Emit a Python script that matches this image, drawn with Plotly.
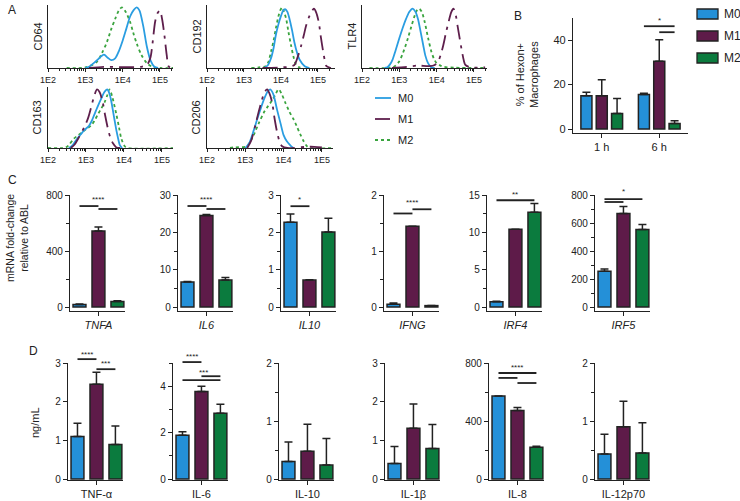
import math
import plotly.graph_objects as go

W, H = 740, 501
FONT = "Liberation Sans, Arial, sans-serif"
INK = "#222222"

GROUPS = ["M0", "M1", "M2"]
BAR_COLORS = ["#2490d8", "#5e1b49", "#0b7b3e"]
LINE_COLORS = ["#2a9de1", "#5e1f4c", "#3aa43f"]
LINE_DASH = ["solid", "longdashdot", "dot"]

# ---------------- Panel A: histogram curves (log10 intensity, normalised count)
CD64_M0 = [(3.0, 0), (3.1, 0.02), (3.3, 0.12), (3.5, 0.22), (3.6, 0.17), (3.7, 0.13), (3.8, 0.16),
           (3.9, 0.28), (4.0, 0.45), (4.1, 0.65), (4.2, 0.85), (4.3, 0.96), (4.38, 1.0), (4.45, 0.95),
           (4.55, 0.7), (4.65, 0.35), (4.75, 0.12), (4.85, 0.02), (4.95, 0)]
CD64_M1 = [(3.1, 0), (3.5, 0.02), (4.0, 0.015), (4.5, 0.02), (4.65, 0.05), (4.74, 0.16), (4.8, 0.4),
           (4.87, 0.76), (4.93, 0.9), (5.0, 0.95), (5.06, 0.8), (5.12, 0.54), (5.18, 0.22), (5.23, 0.03),
           (5.3, 0)]
CD64_M2 = [(2.5, 0), (3.0, 0.01), (3.31, 0.1), (3.45, 0.25), (3.58, 0.43), (3.7, 0.65), (3.8, 0.81),
           (3.9, 0.95), (3.98, 1.0), (4.08, 0.93), (4.2, 0.76), (4.3, 0.55), (4.38, 0.4), (4.5, 0.22),
           (4.65, 0.08), (4.83, 0.01), (5.0, 0), (5.37, 0)]

CD192_M0 = [(3.55, 0), (3.65, 0.05), (3.73, 0.16), (3.8, 0.33), (3.86, 0.54), (3.93, 0.72), (4.0, 0.86),
            (4.06, 0.95), (4.11, 0.97), (4.17, 0.93), (4.23, 0.81), (4.3, 0.62), (4.36, 0.43),
            (4.43, 0.26), (4.5, 0.14), (4.64, 0.03), (4.77, 0)]
CD192_M1 = [(3.5, 0), (4.0, 0.01), (4.2, 0.02), (4.36, 0.05), (4.45, 0.18), (4.55, 0.38), (4.62, 0.55),
            (4.68, 0.7), (4.75, 0.83), (4.82, 0.92), (4.89, 0.98), (4.95, 0.92), (5.02, 0.76),
            (5.08, 0.5), (5.14, 0.27), (5.2, 0.08), (5.23, 0.03), (5.35, 0)]
CD192_M2 = [(3.2, 0), (3.4, 0.01), (3.59, 0.03), (3.66, 0.1), (3.73, 0.27), (3.8, 0.45), (3.86, 0.65),
            (3.93, 0.85), (3.98, 0.95), (4.03, 1.0), (4.08, 0.93), (4.14, 0.81), (4.2, 0.6),
            (4.27, 0.38), (4.34, 0.18), (4.41, 0.05), (4.5, 0.01), (4.6, 0)]

TLR4_M0 = [(2.6, 0), (2.68, 0.01), (2.75, 0.06), (2.82, 0.14), (2.9, 0.29), (3.0, 0.49), (3.09, 0.66),
           (3.18, 0.81), (3.27, 0.93), (3.36, 0.98), (3.43, 0.93), (3.5, 0.81), (3.57, 0.6),
           (3.64, 0.38), (3.7, 0.2), (3.77, 0.08), (3.86, 0.01), (3.95, 0)]
TLR4_M1 = [(2.8, 0), (3.2, 0.02), (3.5, 0.04), (3.8, 0.03), (3.95, 0.05), (4.05, 0.12), (4.12, 0.24),
           (4.18, 0.38), (4.25, 0.58), (4.32, 0.76), (4.39, 0.92), (4.45, 0.98), (4.51, 0.88),
           (4.56, 0.7), (4.62, 0.48), (4.68, 0.27), (4.73, 0.12), (4.77, 0.05), (4.9, 0.01), (5.3, 0.01)]
TLR4_M2 = [(2.2, 0), (2.82, 0.01), (2.9, 0.04), (3.0, 0.11), (3.1, 0.25), (3.23, 0.49), (3.32, 0.68),
           (3.41, 0.86), (3.47, 0.95), (3.53, 0.98), (3.6, 0.93), (3.68, 0.76), (3.77, 0.5),
           (3.86, 0.27), (3.93, 0.15), (4.0, 0.08), (4.1, 0.04), (4.18, 0.02), (4.5, 0.005), (5.3, 0)]

CD163_M0 = [(2.55, 0), (2.65, 0.05), (2.77, 0.16), (2.86, 0.23), (2.95, 0.3), (3.08, 0.38), (3.15, 0.46),
            (3.22, 0.57), (3.31, 0.71), (3.4, 0.84), (3.48, 0.95), (3.56, 1.0), (3.62, 0.92),
            (3.67, 0.78), (3.74, 0.52), (3.8, 0.3), (3.85, 0.15), (3.89, 0.05), (3.95, 0)]
CD163_M1 = [(2.6, 0), (2.7, 0.06), (2.82, 0.19), (2.95, 0.35), (3.05, 0.5), (3.13, 0.68), (3.2, 0.85),
            (3.29, 1.0), (3.36, 0.95), (3.44, 0.78), (3.5, 0.57), (3.57, 0.35), (3.64, 0.18),
            (3.71, 0.08), (3.8, 0.01), (3.9, 0)]
CD163_M2 = [(2.0, 0), (2.45, 0.005), (2.55, 0.05), (2.68, 0.16), (2.8, 0.22), (2.9, 0.27), (3.0, 0.32),
            (3.13, 0.38), (3.22, 0.46), (3.31, 0.57), (3.4, 0.67), (3.49, 0.78), (3.56, 0.9),
            (3.62, 1.0), (3.7, 0.85), (3.8, 0.57), (3.87, 0.35), (3.93, 0.16), (4.02, 0.03),
            (4.1, 0), (5.35, 0)]

CD206_M0 = [(3.0, 0), (3.1, 0.08), (3.22, 0.3), (3.3, 0.47), (3.39, 0.65), (3.5, 0.85), (3.58, 0.96),
            (3.65, 1.0), (3.73, 0.92), (3.83, 0.65), (3.92, 0.42), (4.0, 0.22), (4.08, 0.12),
            (4.17, 0.05), (4.25, 0)]
CD206_M1 = [(3.05, 0), (3.15, 0.12), (3.26, 0.38), (3.35, 0.62), (3.43, 0.81), (3.5, 0.95), (3.57, 1.0),
            (3.63, 0.93), (3.7, 0.78), (3.76, 0.52), (3.83, 0.27), (3.9, 0.1), (3.96, 0.03),
            (4.1, 0), (4.6, 0.02), (4.8, 0.02), (5.0, 0.01)]
CD206_M2 = [(2.6, 0), (2.7, 0.01), (3.04, 0.03), (3.12, 0.1), (3.22, 0.22), (3.35, 0.42), (3.48, 0.6),
            (3.6, 0.72), (3.7, 0.81), (3.8, 0.93), (3.87, 1.0), (3.95, 0.92), (4.04, 0.78),
            (4.15, 0.62), (4.26, 0.49), (4.35, 0.36), (4.43, 0.24), (4.52, 0.12), (4.61, 0.03),
            (4.7, 0), (5.3, 0)]

A_TICKVALS = [2, 3, 4, 5]
A_TICKTEXT = ["1E2", "1E3", "1E4", "1E5"]

# ---------------- Panel B
B_TIMES = ["1 h", "6 h"]
B_M0 = [15.0, 15.5]
B_M0_ERR = [1.5, 0.6]
B_M1 = [15.0, 30.5]
B_M1_ERR = [7.2, 9.7]
B_M2 = [7.0, 2.5]
B_M2_ERR = [6.7, 1.2]

# ---------------- Panel C (mRNA fold-change)
C_GENES = ["TNFA", "IL6", "IL10", "IFNG", "IRF4", "IRF5"]
TNFA_MEAN = [18, 543, 40];      TNFA_ERR = [4, 28, 5]
IL6_MEAN = [6.7, 24.5, 7.2];    IL6_ERR = [0.1, 0.25, 0.7]
IL10_MEAN = [2.27, 0.72, 2.01]; IL10_ERR = [0.22, 0.01, 0.37]
IFNG_MEAN = [0.05, 1.44, 0.025]; IFNG_ERR = [0.02, 0.0, 0.0]
IRF4_MEAN = [0.7, 10.4, 12.7];  IRF4_ERR = [0.08, 0.0, 1.15]
IRF5_MEAN = [256, 668, 554];    IRF5_ERR = [16, 50, 36]

# ---------------- Panel D (ng/mL)
D_CYTOKINES = ["TNF-α", "IL-6", "IL-10", "IL-1β", "IL-8", "IL-12p70"]
TNF_MEAN = [1.10, 2.45, 0.89];   TNF_ERR = [0.34, 0.31, 0.48]
IL6P_MEAN = [1.89, 3.77, 2.83];  IL6P_ERR = [0.15, 0.23, 0.39]
IL10P_MEAN = [0.30, 0.48, 0.24]; IL10P_ERR = [0.34, 0.465, 0.46]
IL1B_MEAN = [0.40, 1.31, 0.79];  IL1B_ERR = [0.44, 0.63, 0.62]
IL8_MEAN = [572, 473, 219];      IL8_ERR = [0, 20, 7]
IL12_MEAN = [0.43, 0.90, 0.45];  IL12_ERR = [0.34, 0.44, 0.52]

# significance brackets: (from group, to group, y) and stars: (x position, y, text)
B_BRACKETS = [(0, 2, 46.3), (1, 2, 43.6)]
B_STARS = [(1, 49.0, "*")]
C_BRACKETS = [[(0, 1, 721), (1, 2, 700)], [(0, 1, 27.05), (1, 2, 26.25)], [(0, 1, 2.7)],
              [(0, 1, 1.67), (1, 2, 1.745)], [(0, 2, 14.3)], [(0, 2, 771), (0, 1, 750)]]
C_STARS = [[(1, 771, "****")], [(1, 28.9, "****")], [(0.5, 2.87, "*")], [(1, 1.86, "****")],
           [(1, 15.1, "**")], [(1, 822, "*")]]
D_BRACKETS = [[(0, 1, 3.10), (1, 2, 2.84)], [(0, 1, 5.04), (0, 2, 4.26), (1, 2, 4.43)], [], [],
              [(0, 2, 731), (0, 1, 697), (1, 2, 662)], []]
D_STARS = [[(0.5, 3.23, "****"), (1.5, 3.0, "***")], [(0.5, 5.3, "****"), (1.1, 4.6, "***")], [], [],
           [(1, 766, "****")], []]

# ---------------------------------------------------------------------------
fig = go.Figure()
layout = {}
annotations = []
shapes = []
GEOM = {}


def axname(kind, i):
    return kind + ("" if i == 1 else str(i))


def ref(kind, i):
    return kind[0] + ("" if i == 1 else str(i))


def add_axes(i, left, right, top, bottom, xrange, yrange, xcfg, ycfg):
    base = dict(showline=True, linecolor=INK, linewidth=1.3, showgrid=False, zeroline=False,
                ticks="outside", tickcolor=INK, tickwidth=1.2, ticklen=4,
                tickfont=dict(family=FONT, size=10, color=INK))
    xc = dict(base); xc.update(domain=[left / W, right / W], anchor=ref("y", i), range=xrange); xc.update(xcfg)
    yc = dict(base); yc.update(domain=[1 - bottom / H, 1 - top / H], anchor=ref("x", i), range=yrange); yc.update(ycfg)
    layout[axname("xaxis", i)] = xc
    layout[axname("yaxis", i)] = yc
    GEOM[i] = (left, right, top, bottom, xrange, yrange)


def to_paper(i, x, y):
    left, right, top, bottom, xr, yr = GEOM[i]
    px = left + (x - xr[0]) / (xr[1] - xr[0]) * (right - left)
    py = bottom - (y - yr[0]) / (yr[1] - yr[0]) * (bottom - top)
    return px / W, 1 - py / H


def text(x, y, s, size=10, angle=0, xanchor="center", yanchor="middle"):
    annotations.append(dict(x=x / W, y=1 - y / H, xref="paper", yref="paper", text=s, showarrow=False,
                            textangle=angle, xanchor=xanchor, yanchor=yanchor,
                            font=dict(family=FONT, size=size, color=INK)))


def bracket(i, a, b, yv):
    x0, y0 = to_paper(i, a, yv)
    x1, _ = to_paper(i, b, yv)
    shapes.append(dict(type="line", xref="paper", yref="paper", x0=x0, x1=x1, y0=y0, y1=y0,
                       line=dict(color=INK, width=1.8)))


def star(i, xs, yv, s):
    px, py = to_paper(i, xs, yv)
    annotations.append(dict(x=px, y=py, xref="paper", yref="paper", text=s, showarrow=False,
                            xanchor="center", yanchor="middle",
                            font=dict(family=FONT, size=8, color=INK)))


def minor_log(lo, hi):
    vals = []
    for d in range(2, 6):
        for k in range(2, 10):
            v = d + math.log10(k)
            if lo < v < hi:
                vals.append(v)
    return vals


# ----- Panel A
A_PANELS = [
    ("CD64", [CD64_M0, CD64_M1, CD64_M2], 48, 173, 5, 68, 5.35),
    ("CD192", [CD192_M0, CD192_M1, CD192_M2], 207, 335, 5, 68, 5.46),
    ("TLR4", [TLR4_M0, TLR4_M1, TLR4_M2], 362, 487, 5, 68, 5.35),
    ("CD163", [CD163_M0, CD163_M1, CD163_M2], 48, 173, 87, 148, 5.29),
    ("CD206", [CD206_M0, CD206_M1, CD206_M2], 207, 333, 87, 148, 5.29),
]
idx = 0
for name, curves, left, right, top, bottom, xmax in A_PANELS:
    idx += 1
    add_axes(idx, left, right, top, bottom, [2, xmax], [0, 1.04],
             dict(tickmode="array", tickvals=A_TICKVALS, ticktext=A_TICKTEXT,
                  ticklen=3, tickfont=dict(family=FONT, size=9, color=INK),
                  minor=dict(tickmode="array", tickvals=minor_log(2, xmax), ticks="outside",
                             ticklen=2, tickcolor=INK, tickwidth=0.8)),
             dict(ticks="", showticklabels=False))
    for g in (2, 0, 1):
        pts = curves[g]
        fig.add_trace(go.Scatter(x=[p[0] for p in pts], y=[p[1] for p in pts], mode="lines",
                                 line=dict(color=LINE_COLORS[g], width=1.8, dash=LINE_DASH[g],
                                           shape="spline", smoothing=0.8),
                                 xaxis=ref("x", idx), yaxis=ref("y", idx), showlegend=False,
                                 hoverinfo="skip"))
    text(left - 11, (top + bottom) / 2, name, size=11, angle=-90)

# legend A
for g, yy in zip(range(3), [98, 119, 140]):
    shapes.append(dict(type="line", xref="paper", yref="paper", x0=375 / W, x1=391 / W,
                       y0=1 - yy / H, y1=1 - yy / H,
                       line=dict(color=LINE_COLORS[g], width=1.8, dash=LINE_DASH[g])))
    text(396, yy, GROUPS[g], size=11, xanchor="left")

text(12, 10, "A", size=12)

# ----- Panel B
idx += 1
BARGAP = 0.2
add_axes(idx, 573, 688, 18, 133, [-0.5, 1.5], [-1.8, 50],
         dict(type="category", tickfont=dict(family=FONT, size=11, color=INK)),
         dict(tickmode="array", tickvals=[0, 20, 40], tickfont=dict(family=FONT, size=11, color=INK)))
for g, (vals, errs) in enumerate([(B_M0, B_M0_ERR), (B_M1, B_M1_ERR), (B_M2, B_M2_ERR)]):
    fig.add_trace(go.Bar(x=B_TIMES, y=vals, offsetgroup=str(g), name=GROUPS[g],
                         marker=dict(color=BAR_COLORS[g], line=dict(color=INK, width=1.5)),
                         error_y=dict(type="data", symmetric=False, array=errs,
                                      arrayminus=[0] * len(errs), color=INK, thickness=1.5, width=4),
                         xaxis=ref("x", idx), yaxis=ref("y", idx), showlegend=False))
slot = (1 - BARGAP) / 3
for a, b, yv in B_BRACKETS:
    bracket(idx, 1 + (a - 1) * slot, 1 + (b - 1) * slot, yv)
for xs, yv, s in B_STARS:
    star(idx, xs, yv, s)
text(527, 75, "% of Hexon+<br>Macrophages", size=11, angle=-90)
text(518, 16, "B", size=12)
for g, yy in zip(range(3), [14, 36, 58]):
    shapes.append(dict(type="rect", xref="paper", yref="paper", x0=697 / W, x1=718 / W,
                       y0=1 - (yy + 5) / H, y1=1 - (yy - 5) / H,
                       fillcolor=BAR_COLORS[g], line=dict(color=INK, width=1.3)))
    text(722, yy, GROUPS[g], size=12, xanchor="left")


# ----- Bar panels C and D
def bar_panel(i, left, top, bottom, label, italic, means, errs, ymax, dmajor, dminor, pad_px,
              brackets, stars):
    height = bottom - top
    ylo = -ymax * pad_px / (height - pad_px)
    ycfg = dict(tickmode="linear", tick0=0, dtick=dmajor)
    if dminor:
        ycfg["minor"] = dict(tickmode="linear", tick0=0, dtick=dminor, ticks="outside", ticklen=3,
                             tickcolor=INK, tickwidth=1.1)
    add_axes(i, left, left + 55, top, bottom, [-0.5, 2.4], [ylo, ymax],
             dict(type="category", tickmode="array", tickvals=["M1"],
                  ticktext=["<i>%s</i>" % label if italic else label],
                  tickfont=dict(family=FONT, size=11, color=INK)),
             ycfg)
    fig.add_trace(go.Bar(x=GROUPS, y=means, width=0.68,
                         marker=dict(color=BAR_COLORS, line=dict(color=INK, width=1.5)),
                         error_y=dict(type="data", symmetric=False, array=errs,
                                      arrayminus=[0] * len(errs), color=INK, thickness=1.5, width=4),
                         xaxis=ref("x", i), yaxis=ref("y", i), showlegend=False))
    for a, b, yv in brackets:
        bracket(i, a, b, yv)
    for xs, yv, s in stars:
        star(i, xs, yv, s)


C_SPECS = [(70, TNFA_MEAN, TNFA_ERR, 800, 400, 200),
           (178, IL6_MEAN, IL6_ERR, 30, 10, 5),
           (281, IL10_MEAN, IL10_ERR, 3, 1, 0.5),
           (384, IFNG_MEAN, IFNG_ERR, 2, 1, 0.5),
           (487, IRF4_MEAN, IRF4_ERR, 15, 5, 2.5),
           (595, IRF5_MEAN, IRF5_ERR, 800, 200, 100)]
for k, (left, m, e, ymax, dmaj, dmin) in enumerate(C_SPECS):
    idx += 1
    bar_panel(idx, left, 195, 311, C_GENES[k], True, m, e, ymax, dmaj, dmin, 4,
              C_BRACKETS[k], C_STARS[k])
text(17, 238, "mRNA fold-change<br>relative to ABL", size=10.5, angle=-90)
text(12, 180, "C", size=12)

D_SPECS = [(68, TNF_MEAN, TNF_ERR, 3, 1, None),
           (173, IL6P_MEAN, IL6P_ERR, 5, 2, 1),
           (279, IL10P_MEAN, IL10P_ERR, 2, 1, 0.5),
           (385, IL1B_MEAN, IL1B_ERR, 3, 1, None),
           (489, IL8_MEAN, IL8_ERR, 800, 400, 200),
           (595, IL12_MEAN, IL12_ERR, 2, 1, 0.5)]
for k, (left, m, e, ymax, dmaj, dmin) in enumerate(D_SPECS):
    idx += 1
    bar_panel(idx, left, 363, 480, D_CYTOKINES[k], False, m, e, ymax, dmaj, dmin, 1,
              D_BRACKETS[k], D_STARS[k])
text(35, 423, "ng/mL", size=11, angle=-90)
text(33, 351, "D", size=12)

fig.update_layout(width=W, height=H, autosize=False,
                  margin=dict(l=0, r=0, t=0, b=0, pad=0, autoexpand=False),
                  paper_bgcolor="white", plot_bgcolor="white", barmode="group",
                  bargap=BARGAP, bargroupgap=0.28, annotations=annotations, shapes=shapes,
                  font=dict(family=FONT, size=10, color=INK), **layout)
fig.write_html("out.html", config={"displayModeBar": False},
               post_script="document.body.style.margin='0px';document.body.style.overflow='hidden';")
